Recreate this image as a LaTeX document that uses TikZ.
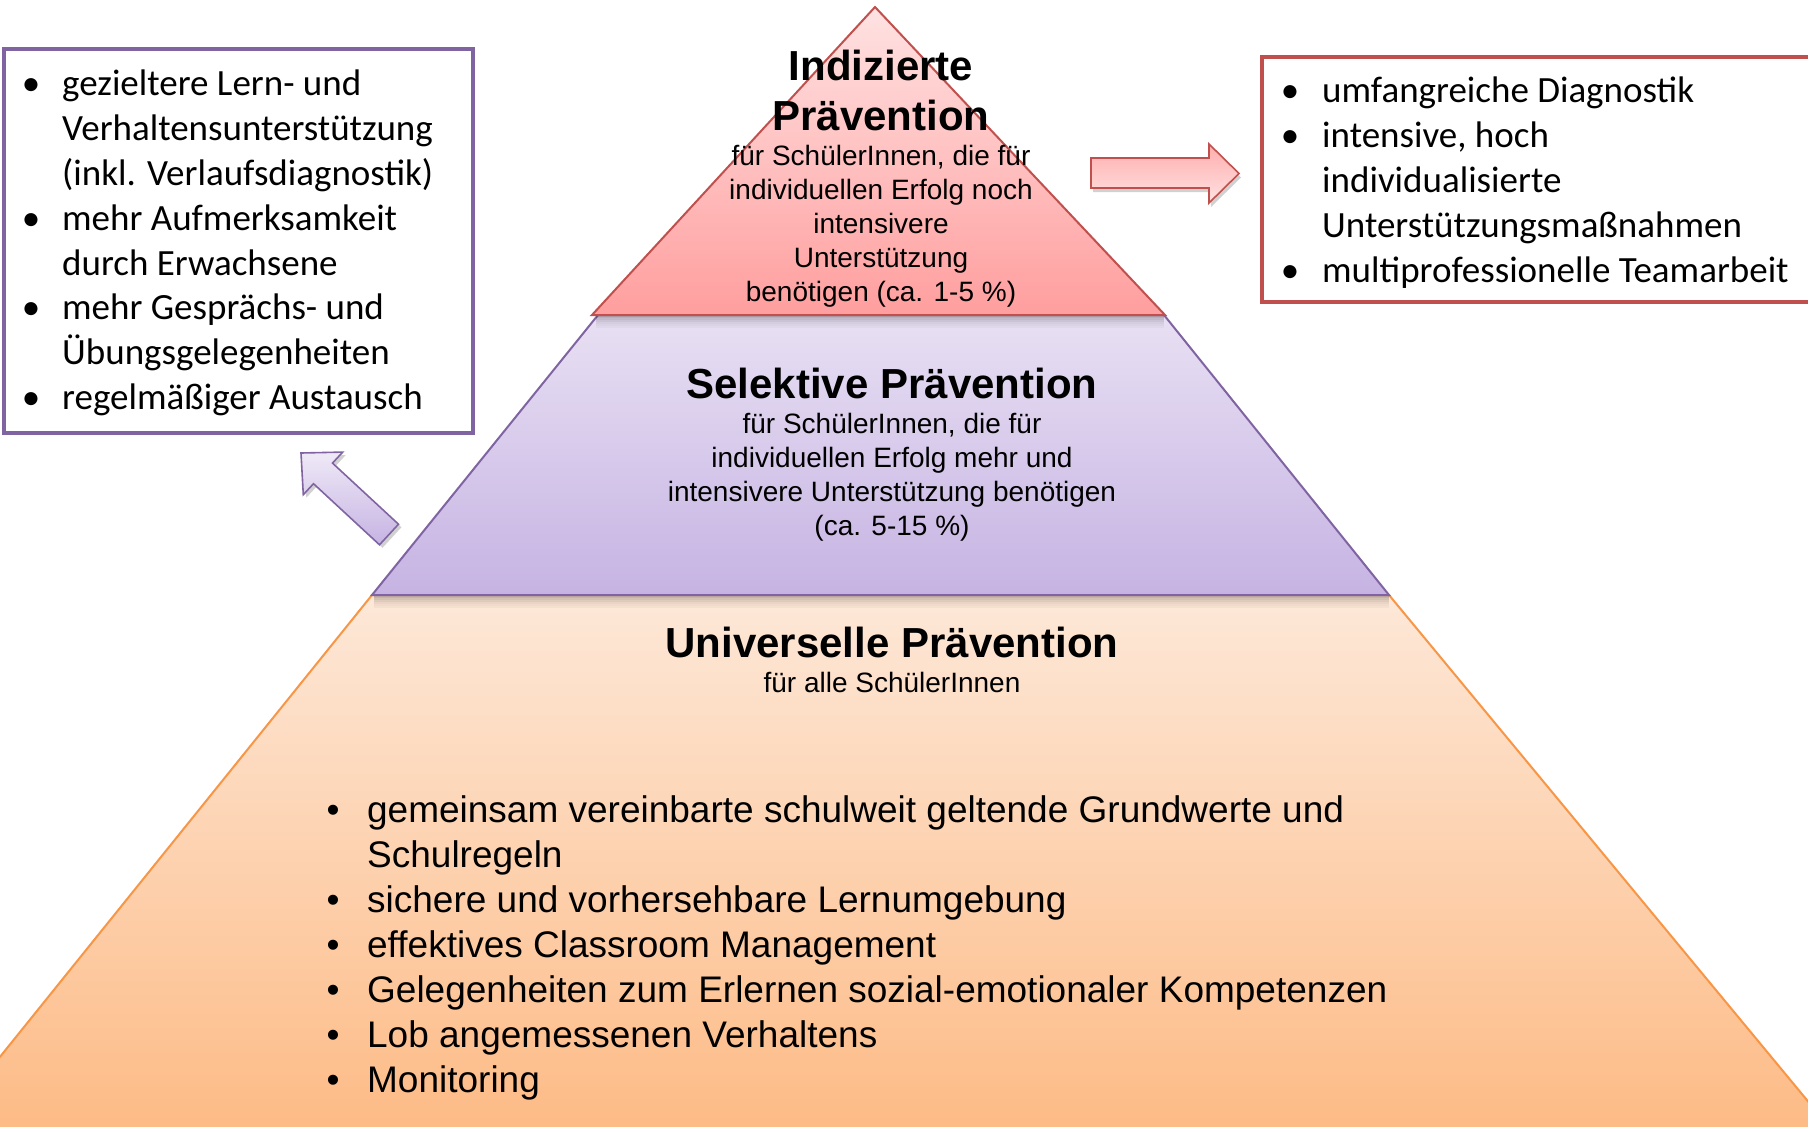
\documentclass[tikz,border=0pt]{standalone}
\usepackage{fontspec}
\setmainfont{Liberation Sans}
\newfontfamily\boxfont{Carlito}
\definecolor{redline}{HTML}{C0504D}
\definecolor{purpline}{HTML}{8064A2}
\definecolor{orline}{HTML}{F79646}
\definecolor{redtop}{HTML}{FFE2E2}
\definecolor{redbot}{HTML}{FF9E9E}
\definecolor{purtop}{HTML}{E8E0F3}
\definecolor{purbot}{HTML}{C6B3E3}
\definecolor{ortop}{HTML}{FDE8D8}
\definecolor{orbot}{HTML}{FDBA84}
\begin{document}
\begin{tikzpicture}[x=1pt,y=-1pt,
  titletext/.style={anchor=base, inner sep=0pt, font=\fontsize{42}{50}\selectfont\bfseries},
  subtext/.style={anchor=base, inner sep=0pt, font=\fontsize{28}{34}\selectfont},
  listtext/.style={anchor=base west, inner sep=0pt, font=\fontsize{37}{45}\selectfont},
  boxtext/.style={anchor=base west, inner sep=0pt, font=\boxfont\fontsize{37}{45}\selectfont},
  shadowfill/.style={fill=black, opacity=0.22},
  tier/.style={line width=2pt, line join=miter},
  infobox/.style={line width=4pt, fill=white},
]
\useasboundingbox (0,0) rectangle (1808,1127);
\clip (0,0) rectangle (1808,1127);

% orange tier
\path[tier, draw=orline, top color=ortop, bottom color=orbot]
  (372,595) -- (1389,595) -- (1840,1140) -- (-67,1140) -- cycle;
% purple tier with soft shadow below its base
\foreach \k/\o in {0/0.22,1/0.17,2/0.12,3/0.08,4/0.05,5/0.03}
  \fill[black, opacity=\o] (374,596+2*\k) rectangle (1389,598+2*\k);
\path[tier, draw=purpline, top color=purtop, bottom color=purbot]
  (598,315) -- (1164,315) -- (1389,595) -- (372,595) -- cycle;
% red tier with soft shadow below its base
\foreach \k/\o in {0/0.22,1/0.17,2/0.12,3/0.08,4/0.05,5/0.03}
  \fill[black, opacity=\o] (596,316+2*\k) rectangle (1164,318+2*\k);
\path[tier, draw=redline, top color=redtop, bottom color=redbot]
  (875,7) -- (1165,315) -- (592,315) -- cycle;

% texts in the pyramid
\node[titletext] (ititle) at (881,80)
  {\begin{tabular}[t]{@{}c@{}}Indizierte\\Prävention\end{tabular}};
\node[subtext] (isub) at (881,165)
  {\begin{tabular}[t]{@{}c@{}}für SchülerInnen, die für\\individuellen Erfolg noch\\intensivere\\Unterstützung\\benötigen (ca. 1-5 \%)\end{tabular}};

\node[titletext] (stitle) at (892,398) {Selektive Prävention};
\node[subtext] (ssub) at (892,433)
  {\begin{tabular}[t]{@{}c@{}}für SchülerInnen, die für\\individuellen Erfolg mehr und\\intensivere Unterstützung benötigen\\(ca. 5-15 \%)\end{tabular}};

\node[titletext] (utitle) at (892,657) {Universelle Prävention};
\node[subtext] (usub) at (892,692.5) {für alle SchülerInnen};

\node[listtext] (ulist) at (333,822)
  {\begin{tabular}[t]{@{}l@{}l@{}}
   \makebox[34pt][l]{\makebox[0pt]{•}} & gemeinsam vereinbarte schulweit geltende Grundwerte und\\
   & Schulregeln\\
   \makebox[34pt][l]{\makebox[0pt]{•}} & sichere und vorhersehbare Lernumgebung\\
   \makebox[34pt][l]{\makebox[0pt]{•}} & effektives Classroom Management\\
   \makebox[34pt][l]{\makebox[0pt]{•}} & Gelegenheiten zum Erlernen sozial-emotionaler Kompetenzen\\
   \makebox[34pt][l]{\makebox[0pt]{•}} & Lob angemessenen Verhaltens\\
   \makebox[34pt][l]{\makebox[0pt]{•}} & Monitoring
   \end{tabular}};

% left box
\draw[infobox, draw=purpline] (4,49) rectangle (473,433);
\node[boxtext] (llist) at (31,95)
  {\begin{tabular}[t]{@{}l@{}l@{}}
   \makebox[31pt][l]{\makebox[0pt]{•}} & gezieltere Lern- und\\
   & Verhaltensunterstützung\\
   & (inkl. Verlaufsdiagnostik)\\
   \makebox[31pt][l]{\makebox[0pt]{•}} & mehr Aufmerksamkeit\\
   & durch Erwachsene\\
   \makebox[31pt][l]{\makebox[0pt]{•}} & mehr Gesprächs- und\\
   & Übungsgelegenheiten\\
   \makebox[31pt][l]{\makebox[0pt]{•}} & regelmäßiger Austausch
   \end{tabular}};

% right box
\draw[infobox, draw=redline] (1262,57) rectangle (1840,302);
\node[boxtext] (rlist) at (1290,102)
  {\begin{tabular}[t]{@{}l@{}l@{}}
   \makebox[32pt][l]{\makebox[0pt]{•}} & umfangreiche Diagnostik\\
   \makebox[32pt][l]{\makebox[0pt]{•}} & intensive, hoch\\
   & individualisierte\\
   & Unterstützungsmaßnahmen\\
   \makebox[32pt][l]{\makebox[0pt]{•}} & multiprofessionelle Teamarbeit
   \end{tabular}};

% red block arrow
\fill[shadowfill, opacity=0.18] (1093,162) -- (1211,162) -- (1211,148) -- (1241,177.5)
  -- (1211,207) -- (1211,192) -- (1093,192) -- cycle;
\path[line width=1.6pt, draw=redline, line join=miter, top color=redbot!85!white, bottom color=redtop]
  (1091,158) -- (1209,158) -- (1209,144) -- (1239,173.5)
  -- (1209,203) -- (1209,188) -- (1091,188) -- cycle;

% purple block arrow
\fill[shadowfill, opacity=0.18] (304,456) -- (345.7,455.1) -- (335.5,466.1) -- (401.5,527.2)
  -- (382.5,547.8) -- (316.5,486.7) -- (306.3,497.7) -- cycle;
\path[line width=1.6pt, draw=purpline, line join=miter, top color=purtop!70!white, bottom color=purbot]
  (301,453) -- (342.7,452.1) -- (332.5,463.1) -- (398.5,524.2)
  -- (379.5,544.8) -- (313.5,483.7) -- (303.3,494.7) -- cycle;
\end{tikzpicture}
\end{document}
